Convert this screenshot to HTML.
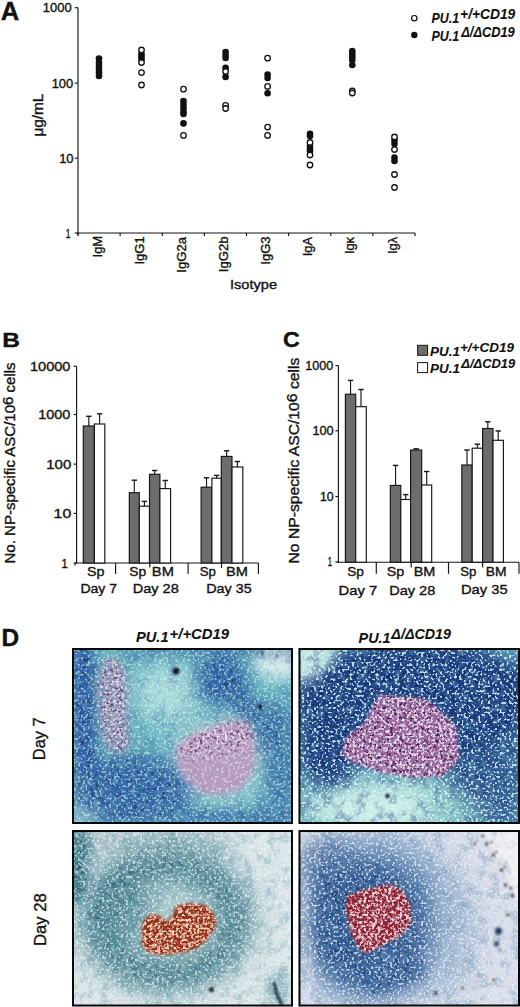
<!DOCTYPE html>
<html><head><meta charset="utf-8"><style>
html,body{margin:0;padding:0;background:#fff;width:520px;height:1007px;overflow:hidden}
svg{position:absolute;left:0;top:0;display:block}
text{font-family:"Liberation Sans", sans-serif;fill:#111;stroke:#111;stroke-width:0.35px}
</style></head><body>
<svg width="520" height="1007" viewBox="0 0 520 1007">
<defs><filter id="bl1" filterUnits="userSpaceOnUse" x="-600" y="-1100" width="1800" height="2400"><feGaussianBlur stdDeviation="0.8"/></filter>
<filter id="bl2" filterUnits="userSpaceOnUse" x="-600" y="-1100" width="1800" height="2400"><feGaussianBlur stdDeviation="1.6"/></filter>
<filter id="bl3" filterUnits="userSpaceOnUse" x="-600" y="-1100" width="1800" height="2400"><feGaussianBlur stdDeviation="3"/></filter>
<filter id="bl4" filterUnits="userSpaceOnUse" x="-600" y="-1100" width="1800" height="2400"><feGaussianBlur stdDeviation="4"/></filter>
<filter id="bl6" filterUnits="userSpaceOnUse" x="-600" y="-1100" width="1800" height="2400"><feGaussianBlur stdDeviation="6"/></filter>
<filter id="bl8" filterUnits="userSpaceOnUse" x="-600" y="-1100" width="1800" height="2400"><feGaussianBlur stdDeviation="8"/></filter>
<filter id="bl10" filterUnits="userSpaceOnUse" x="-600" y="-1100" width="1800" height="2400"><feGaussianBlur stdDeviation="10"/></filter>
<filter id="bl16" filterUnits="userSpaceOnUse" x="-600" y="-1100" width="1800" height="2400"><feGaussianBlur stdDeviation="16"/></filter>
<clipPath id="cTL"><rect x="72" y="648" width="221" height="176"/></clipPath>
<mask id="mTL" maskUnits="userSpaceOnUse" x="72" y="648" width="221" height="176"><rect x="72" y="648" width="221" height="176" fill="#000"/><g transform="translate(72,648)"><polyline points="10,-5 12,80 14,120" fill="none" stroke="#fff" stroke-width="26" stroke-linecap="round" stroke-linejoin="round" opacity="1" filter="url(#bl6)"/><ellipse cx="60" cy="142" rx="62" ry="36" fill="#fff" opacity="0.9" filter="url(#bl10)"/><polyline points="55,3 221,3" fill="none" stroke="#fff" stroke-width="12" stroke-linecap="round" stroke-linejoin="round" opacity="0.5" filter="url(#bl6)"/><ellipse cx="148" cy="32" rx="24" ry="26" fill="#fff" opacity="0.85" filter="url(#bl8)"/><polyline points="150,20 165,45 182,68 196,88" fill="none" stroke="#fff" stroke-width="24" stroke-linecap="round" stroke-linejoin="round" opacity="0.8" filter="url(#bl8)"/><ellipse cx="208" cy="110" rx="16" ry="60" fill="#fff" opacity="0.65" filter="url(#bl8)"/><polyline points="106,170 221,170" fill="none" stroke="#fff" stroke-width="18" stroke-linecap="round" stroke-linejoin="round" opacity="0.65" filter="url(#bl6)"/></g></mask>
<filter color-interpolation-filters="sRGB" id="mottTL" x="0" y="0" width="100%" height="100%"><feTurbulence type="fractalNoise" baseFrequency="0.16" numOctaves="2" seed="3"/><feColorMatrix type="matrix" values="0 0 0 0 0.180  0 0 0 0 0.361  0 0 0 0 0.651  3.2 0 0 0 -0.9"/></filter>
<filter color-interpolation-filters="sRGB" id="dotTL" x="0" y="0" width="100%" height="100%"><feTurbulence type="fractalNoise" baseFrequency="0.24" numOctaves="2" seed="13"/><feColorMatrix type="matrix" values="0 0 0 0 0.047  0 0 0 0 0.110  0 0 0 0 0.251  0 9 0 0 -5.1"/><feGaussianBlur stdDeviation="0.4"/></filter>
<filter color-interpolation-filters="sRGB" id="celTL" x="0" y="0" width="100%" height="100%"><feTurbulence type="fractalNoise" baseFrequency="0.42" numOctaves="1" seed="7"/><feColorMatrix type="matrix" values="0 0 0 0 0.847  0 0 0 0 0.957  0 0 0 0 0.957  12 0 0 0 -6.6"/><feGaussianBlur stdDeviation="0.35"/></filter>
<filter color-interpolation-filters="sRGB" id="gmTL" x="0" y="0" width="100%" height="100%"><feTurbulence type="fractalNoise" baseFrequency="0.09" numOctaves="3" seed="17"/><feColorMatrix type="matrix" values="0 0 0 0 0.180  0 0 0 0 0.361  0 0 0 0 0.651  4.0 0 0 0 -1.9"/></filter>
<mask id="bTL" maskUnits="userSpaceOnUse" x="72" y="648" width="221" height="176"><rect x="72" y="648" width="221" height="176" fill="#000"/><g transform="translate(72,648)"><polygon points="32,12 45,10 53,25 55,50 54,75 57,95 50,105 38,102 30,85 27,60 26,35" fill="#fff" opacity="1" filter="url(#bl3)"/><polygon points="106,97 118,87 138,80 160,72 176,74 182,87 182,100 150,108 110,112" fill="#fff" opacity="1" filter="url(#bl6)"/></g></mask>
<filter color-interpolation-filters="sRGB" id="bspTL" x="0" y="0" width="100%" height="100%"><feTurbulence type="fractalNoise" baseFrequency="0.3" numOctaves="2" seed="31"/><feColorMatrix type="matrix" values="0 0 0 0 0.290  0 0 0 0 0.094  0 0 0 0 0.282  0 0 8 0 -4.3"/><feGaussianBlur stdDeviation="0.35"/></filter>
<filter color-interpolation-filters="sRGB" id="bslTL" x="0" y="0" width="100%" height="100%"><feTurbulence type="fractalNoise" baseFrequency="0.36" numOctaves="1" seed="41"/><feColorMatrix type="matrix" values="0 0 0 0 0.957  0 0 0 0 0.878  0 0 0 0 0.941  11 0 0 0 -6.0"/><feGaussianBlur stdDeviation="0.45"/></filter>
<clipPath id="cTR"><rect x="298.5" y="648" width="221.5" height="176"/></clipPath>
<mask id="mTR" maskUnits="userSpaceOnUse" x="298.5" y="648" width="221.5" height="176"><rect x="298.5" y="648" width="221.5" height="176" fill="#000"/><g transform="translate(298.5,648)"><ellipse cx="118" cy="50" rx="122" ry="58" fill="#fff" opacity="1" filter="url(#bl8)"/><ellipse cx="30" cy="100" rx="30" ry="40" fill="#fff" opacity="1" filter="url(#bl8)"/><ellipse cx="4" cy="4" rx="30" ry="26" fill="#000" filter="url(#bl6)"/><ellipse cx="185" cy="110" rx="40" ry="45" fill="#fff" opacity="0.75" filter="url(#bl10)"/><ellipse cx="205" cy="160" rx="25" ry="25" fill="#fff" opacity="0.6" filter="url(#bl10)"/></g></mask>
<filter color-interpolation-filters="sRGB" id="mottTR" x="0" y="0" width="100%" height="100%"><feTurbulence type="fractalNoise" baseFrequency="0.16" numOctaves="2" seed="3"/><feColorMatrix type="matrix" values="0 0 0 0 0.110  0 0 0 0 0.235  0 0 0 0 0.510  3.2 0 0 0 -0.9"/></filter>
<filter color-interpolation-filters="sRGB" id="dotTR" x="0" y="0" width="100%" height="100%"><feTurbulence type="fractalNoise" baseFrequency="0.24" numOctaves="2" seed="13"/><feColorMatrix type="matrix" values="0 0 0 0 0.047  0 0 0 0 0.110  0 0 0 0 0.251  0 9 0 0 -5.1"/><feGaussianBlur stdDeviation="0.4"/></filter>
<filter color-interpolation-filters="sRGB" id="celTR" x="0" y="0" width="100%" height="100%"><feTurbulence type="fractalNoise" baseFrequency="0.42" numOctaves="1" seed="7"/><feColorMatrix type="matrix" values="0 0 0 0 0.847  0 0 0 0 0.957  0 0 0 0 0.957  12 0 0 0 -6.6"/><feGaussianBlur stdDeviation="0.35"/></filter>
<filter color-interpolation-filters="sRGB" id="gmTR" x="0" y="0" width="100%" height="100%"><feTurbulence type="fractalNoise" baseFrequency="0.09" numOctaves="3" seed="17"/><feColorMatrix type="matrix" values="0 0 0 0 0.110  0 0 0 0 0.235  0 0 0 0 0.510  4.0 0 0 0 -1.9"/></filter>
<mask id="bTR" maskUnits="userSpaceOnUse" x="298.5" y="648" width="221.5" height="176"><rect x="298.5" y="648" width="221.5" height="176" fill="#000"/><g transform="translate(298.5,648)"><polygon points="81,47 128,51 158,79 160,111 145,128 115,130 81,124 56,115 43,107 47,90 64,77" fill="#fff" opacity="1" filter="url(#bl2)"/></g></mask>
<filter color-interpolation-filters="sRGB" id="bspTR" x="0" y="0" width="100%" height="100%"><feTurbulence type="fractalNoise" baseFrequency="0.3" numOctaves="2" seed="31"/><feColorMatrix type="matrix" values="0 0 0 0 0.251  0 0 0 0 0.063  0 0 0 0 0.220  0 0 8 0 -4.3"/><feGaussianBlur stdDeviation="0.35"/></filter>
<filter color-interpolation-filters="sRGB" id="bslTR" x="0" y="0" width="100%" height="100%"><feTurbulence type="fractalNoise" baseFrequency="0.36" numOctaves="1" seed="41"/><feColorMatrix type="matrix" values="0 0 0 0 0.949  0 0 0 0 0.816  0 0 0 0 0.925  11 0 0 0 -6.0"/><feGaussianBlur stdDeviation="0.45"/></filter>
<clipPath id="cBL"><rect x="72" y="830" width="221" height="176.5"/></clipPath>
<mask id="mBL" maskUnits="userSpaceOnUse" x="72" y="830" width="221" height="176.5"><rect x="72" y="830" width="221" height="176.5" fill="#000"/><g transform="translate(72,830)"><ellipse cx="6" cy="30" rx="12" ry="45" fill="#fff" opacity="1" filter="url(#bl4)"/><ellipse cx="95" cy="90" rx="68" ry="56" fill="none" stroke="#fff" stroke-width="30" filter="url(#bl10)" opacity="0.85"/><ellipse cx="50" cy="80" rx="30" ry="40" fill="#fff" opacity="0.6" filter="url(#bl10)"/><polyline points="10,12 80,10 150,14" fill="none" stroke="#fff" stroke-width="22" stroke-linecap="round" stroke-linejoin="round" opacity="0.45" filter="url(#bl10)"/></g></mask>
<filter color-interpolation-filters="sRGB" id="mottBL" x="0" y="0" width="100%" height="100%"><feTurbulence type="fractalNoise" baseFrequency="0.16" numOctaves="2" seed="3"/><feColorMatrix type="matrix" values="0 0 0 0 0.247  0 0 0 0 0.486  0 0 0 0 0.541  3.2 0 0 0 -0.9"/></filter>
<filter color-interpolation-filters="sRGB" id="dotBL" x="0" y="0" width="100%" height="100%"><feTurbulence type="fractalNoise" baseFrequency="0.24" numOctaves="2" seed="13"/><feColorMatrix type="matrix" values="0 0 0 0 0.047  0 0 0 0 0.110  0 0 0 0 0.251  0 9 0 0 -5.1"/><feGaussianBlur stdDeviation="0.4"/></filter>
<filter color-interpolation-filters="sRGB" id="celBL" x="0" y="0" width="100%" height="100%"><feTurbulence type="fractalNoise" baseFrequency="0.42" numOctaves="1" seed="7"/><feColorMatrix type="matrix" values="0 0 0 0 0.941  0 0 0 0 0.973  0 0 0 0 0.973  12 0 0 0 -6.6"/><feGaussianBlur stdDeviation="0.35"/></filter>
<filter color-interpolation-filters="sRGB" id="gmBL" x="0" y="0" width="100%" height="100%"><feTurbulence type="fractalNoise" baseFrequency="0.09" numOctaves="3" seed="17"/><feColorMatrix type="matrix" values="0 0 0 0 0.310  0 0 0 0 0.557  0 0 0 0 0.612  4.0 0 0 0 -1.9"/></filter>
<mask id="bBL" maskUnits="userSpaceOnUse" x="72" y="830" width="221" height="176.5"><rect x="72" y="830" width="221" height="176.5" fill="#000"/><g transform="translate(72,830)"><polygon points="69.5,100 72,90 79,84 88,86 95,92 100,86 104,76 118,73 133,75 142,84 144,96 136,108 126,118 113,122 93,125 76,123 70,115" fill="#fff" opacity="1" filter="url(#bl2)"/></g></mask>
<filter color-interpolation-filters="sRGB" id="bspBL" x="0" y="0" width="100%" height="100%"><feTurbulence type="fractalNoise" baseFrequency="0.3" numOctaves="2" seed="31"/><feColorMatrix type="matrix" values="0 0 0 0 0.949  0 0 0 0 0.769  0 0 0 0 0.627  0 0 8 0 -4.3"/><feGaussianBlur stdDeviation="0.35"/></filter>
<filter color-interpolation-filters="sRGB" id="bslBL" x="0" y="0" width="100%" height="100%"><feTurbulence type="fractalNoise" baseFrequency="0.36" numOctaves="1" seed="41"/><feColorMatrix type="matrix" values="0 0 0 0 0.973  0 0 0 0 0.847  0 0 0 0 0.722  11 0 0 0 -6.0"/><feGaussianBlur stdDeviation="0.45"/></filter>
<clipPath id="cBR"><rect x="298.5" y="830" width="221.5" height="176.5"/></clipPath>
<mask id="mBR" maskUnits="userSpaceOnUse" x="298.5" y="830" width="221.5" height="176.5"><rect x="298.5" y="830" width="221.5" height="176.5" fill="#000"/><g transform="translate(298.5,830)"><ellipse cx="70" cy="95" rx="62" ry="66" fill="#fff" opacity="0.9" filter="url(#bl10)"/><polyline points="35,60 45,120 80,152 120,140" fill="none" stroke="#fff" stroke-width="20" stroke-linecap="round" stroke-linejoin="round" opacity="0.75" filter="url(#bl6)"/><ellipse cx="30" cy="40" rx="30" ry="35" fill="#fff" opacity="0.6" filter="url(#bl10)"/></g></mask>
<filter color-interpolation-filters="sRGB" id="mottBR" x="0" y="0" width="100%" height="100%"><feTurbulence type="fractalNoise" baseFrequency="0.16" numOctaves="2" seed="3"/><feColorMatrix type="matrix" values="0 0 0 0 0.173  0 0 0 0 0.345  0 0 0 0 0.573  3.2 0 0 0 -0.9"/></filter>
<filter color-interpolation-filters="sRGB" id="dotBR" x="0" y="0" width="100%" height="100%"><feTurbulence type="fractalNoise" baseFrequency="0.24" numOctaves="2" seed="13"/><feColorMatrix type="matrix" values="0 0 0 0 0.047  0 0 0 0 0.110  0 0 0 0 0.251  0 9 0 0 -5.1"/><feGaussianBlur stdDeviation="0.4"/></filter>
<filter color-interpolation-filters="sRGB" id="celBR" x="0" y="0" width="100%" height="100%"><feTurbulence type="fractalNoise" baseFrequency="0.42" numOctaves="1" seed="7"/><feColorMatrix type="matrix" values="0 0 0 0 0.910  0 0 0 0 0.941  0 0 0 0 0.973  12 0 0 0 -6.6"/><feGaussianBlur stdDeviation="0.35"/></filter>
<filter color-interpolation-filters="sRGB" id="gmBR" x="0" y="0" width="100%" height="100%"><feTurbulence type="fractalNoise" baseFrequency="0.09" numOctaves="3" seed="17"/><feColorMatrix type="matrix" values="0 0 0 0 0.369  0 0 0 0 0.533  0 0 0 0 0.659  4.0 0 0 0 -1.9"/></filter>
<mask id="bBR" maskUnits="userSpaceOnUse" x="298.5" y="830" width="221.5" height="176.5"><rect x="298.5" y="830" width="221.5" height="176.5" fill="#000"/><g transform="translate(298.5,830)"><polygon points="48.5,66 62.5,60.8 85,55.6 93.5,54.7 105.5,62.5 111.5,74.6 112.5,92 102,105.7 88.5,112.7 76,119.6 67.5,123 60.5,118 54,105.7 50,92 47,78" fill="#fff" opacity="1" filter="url(#bl2)"/></g></mask>
<filter color-interpolation-filters="sRGB" id="bspBR" x="0" y="0" width="100%" height="100%"><feTurbulence type="fractalNoise" baseFrequency="0.3" numOctaves="2" seed="31"/><feColorMatrix type="matrix" values="0 0 0 0 0.941  0 0 0 0 0.722  0 0 0 0 0.753  0 0 8 0 -4.3"/><feGaussianBlur stdDeviation="0.35"/></filter>
<filter color-interpolation-filters="sRGB" id="bslBR" x="0" y="0" width="100%" height="100%"><feTurbulence type="fractalNoise" baseFrequency="0.36" numOctaves="1" seed="41"/><feColorMatrix type="matrix" values="0 0 0 0 0.973  0 0 0 0 0.831  0 0 0 0 0.863  11 0 0 0 -6.0"/><feGaussianBlur stdDeviation="0.45"/></filter></defs>
<g clip-path="url(#cTL)">
<rect x="72" y="648" width="221" height="176" fill="#6cb6c0"/>
<g transform="translate(72,648)"><ellipse cx="205" cy="14" rx="22" ry="18" fill="#d4ecea" opacity="1" filter="url(#bl6)"/><ellipse cx="95" cy="45" rx="32" ry="30" fill="#acdcda" opacity="0.95" filter="url(#bl10)"/><ellipse cx="12" cy="165" rx="16" ry="14" fill="#a8d8d8" opacity="0.9" filter="url(#bl6)"/><ellipse cx="144" cy="112" rx="50" ry="46" fill="#a6d2d4" opacity="0.8" filter="url(#bl10)"/></g>
<g mask="url(#mTL)"><rect x="72" y="648" width="221" height="176" fill="#2e5ca6" opacity="0.55"/><rect x="72" y="648" width="221" height="176" filter="url(#mottTL)"/><rect x="72" y="648" width="221" height="176" filter="url(#dotTL)" opacity="0.45"/></g>
<rect x="72" y="648" width="221" height="176" filter="url(#gmTL)" opacity="0.25"/>
<g transform="translate(72,648)"><polygon points="32,12 45,10 53,25 55,50 54,75 57,95 50,105 38,102 30,85 27,60 26,35" fill="#a48ab4" opacity="0.7" filter="url(#bl4)"/><polygon points="106,97 118,87 138,80 160,72 176,74 182,87 184,107 180,127 168,142 148,147 128,144 113,132 104,117" fill="#bc98c0" opacity="0.92" filter="url(#bl3)"/></g>
<g mask="url(#bTL)" opacity="0.6"><rect x="72" y="648" width="221" height="176" filter="url(#bspTL)"/></g>
<g mask="url(#bTL)" opacity="0.8"><rect x="72" y="648" width="221" height="176" filter="url(#bslTL)"/></g>
<rect x="72" y="648" width="221" height="176" filter="url(#celTL)" opacity="0.55"/>
<g transform="translate(72,648)"><circle cx="104" cy="23" r="3.5" fill="#101830" filter="url(#bl1)"/><circle cx="188" cy="59" r="2.5" fill="#101830" filter="url(#bl1)"/><circle cx="190" cy="5" r="1.2" fill="#202020" filter="url(#bl1)"/><circle cx="205" cy="8" r="1.2" fill="#202020" filter="url(#bl1)"/></g>
</g>
<rect x="73" y="649" width="219" height="174" fill="none" stroke="#0a0a0a" stroke-width="2"/>
<g clip-path="url(#cTR)">
<rect x="298.5" y="648" width="221.5" height="176" fill="#64a6c0"/>
<g transform="translate(298.5,648)"><ellipse cx="10" cy="12" rx="30" ry="28" fill="#c2e6e2" opacity="1" filter="url(#bl6)"/><ellipse cx="85" cy="158" rx="85" ry="28" fill="#a8dcd6" opacity="1" filter="url(#bl10)"/><ellipse cx="80" cy="162" rx="60" ry="18" fill="#d0f0ea" opacity="1" filter="url(#bl10)"/><ellipse cx="160" cy="160" rx="40" ry="18" fill="#86c4c6" opacity="0.7" filter="url(#bl10)"/></g>
<g mask="url(#mTR)"><rect x="298.5" y="648" width="221.5" height="176" fill="#1c3c82" opacity="0.55"/><rect x="298.5" y="648" width="221.5" height="176" filter="url(#mottTR)"/><rect x="298.5" y="648" width="221.5" height="176" filter="url(#dotTR)" opacity="0.45"/></g>
<rect x="298.5" y="648" width="221.5" height="176" filter="url(#gmTR)" opacity="0.35"/>
<g transform="translate(298.5,648)"><polygon points="81,47 128,51 158,79 160,111 145,128 115,130 81,124 56,115 43,107 47,90 64,77" fill="#9c6aa0" opacity="1" filter="url(#bl2)"/></g>
<g mask="url(#bTR)" opacity="0.8"><rect x="298.5" y="648" width="221.5" height="176" filter="url(#bspTR)"/></g>
<g mask="url(#bTR)" opacity="0.85"><rect x="298.5" y="648" width="221.5" height="176" filter="url(#bslTR)"/></g>
<rect x="298.5" y="648" width="221.5" height="176" filter="url(#celTR)" opacity="0.85"/>
<g transform="translate(298.5,648)"><circle cx="89" cy="148" r="2.2" fill="#101820" filter="url(#bl1)"/></g>
</g>
<rect x="299.5" y="649" width="219.5" height="174" fill="none" stroke="#0a0a0a" stroke-width="2"/>
<g clip-path="url(#cBL)">
<rect x="72" y="830" width="221" height="176.5" fill="#dce6e8"/>
<g transform="translate(72,830)"><ellipse cx="92" cy="88" rx="95" ry="72" fill="#a4c6cc" opacity="1" filter="url(#bl16)"/><ellipse cx="108" cy="100" rx="45" ry="32" fill="#b4cdd0" opacity="0.9" filter="url(#bl10)"/><ellipse cx="205" cy="160" rx="12" ry="20" fill="#8ab4bc" opacity="0.8" filter="url(#bl6)"/></g>
<g mask="url(#mBL)"><rect x="72" y="830" width="221" height="176.5" fill="#3f7c8a" opacity="0.55"/><rect x="72" y="830" width="221" height="176.5" filter="url(#mottBL)"/><rect x="72" y="830" width="221" height="176.5" filter="url(#dotBL)" opacity="0.4"/></g>
<rect x="72" y="830" width="221" height="176.5" filter="url(#gmBL)" opacity="0.3"/>
<g transform="translate(72,830)"><polygon points="69.5,100 72,90 79,84 88,86 95,92 100,86 104,76 118,73 133,75 142,84 144,96 136,108 126,118 113,122 93,125 76,123 70,115" fill="#962e14" opacity="1" filter="url(#bl2)"/></g>
<g mask="url(#bBL)" opacity="0.6"><rect x="72" y="830" width="221" height="176.5" filter="url(#bspBL)"/></g>
<g mask="url(#bBL)" opacity="0.9"><rect x="72" y="830" width="221" height="176.5" filter="url(#bslBL)"/></g>
<rect x="72" y="830" width="221" height="176.5" filter="url(#celBL)" opacity="0.6"/>
<g transform="translate(72,830)"><polyline points="202,152 205,165 210,175" fill="none" stroke="#1e3a44" stroke-width="3" filter="url(#bl1)"/><circle cx="139.5" cy="159.5" r="2.6" fill="#1a2a30" filter="url(#bl1)"/></g>
</g>
<rect x="73" y="831" width="219" height="174.5" fill="none" stroke="#0a0a0a" stroke-width="2"/>
<g clip-path="url(#cBR)">
<rect x="298.5" y="830" width="221.5" height="176.5" fill="#d8dde8"/>
<g transform="translate(298.5,830)"><ellipse cx="75" cy="90" rx="85" ry="88" fill="#7a9cc2" opacity="1" filter="url(#bl16)"/><ellipse cx="8" cy="110" rx="8" ry="70" fill="#d0dcea" opacity="0.9" filter="url(#bl4)"/><ellipse cx="150" cy="110" rx="30" ry="60" fill="#a8bcd4" opacity="0.6" filter="url(#bl10)"/><polygon points="183,-5 230,-5 230,80 222,75" fill="#f2f0f2" opacity="1" filter="url(#bl1)"/></g>
<g mask="url(#mBR)"><rect x="298.5" y="830" width="221.5" height="176.5" fill="#2c5892" opacity="0.55"/><rect x="298.5" y="830" width="221.5" height="176.5" filter="url(#mottBR)"/><rect x="298.5" y="830" width="221.5" height="176.5" filter="url(#dotBR)" opacity="0.45"/></g>
<rect x="298.5" y="830" width="221.5" height="176.5" filter="url(#gmBR)" opacity="0.3"/>
<g transform="translate(298.5,830)"><polygon points="48.5,66 62.5,60.8 85,55.6 93.5,54.7 105.5,62.5 111.5,74.6 112.5,92 102,105.7 88.5,112.7 76,119.6 67.5,123 60.5,118 54,105.7 50,92 47,78" fill="#8c2430" opacity="1" filter="url(#bl2)"/></g>
<g mask="url(#bBR)" opacity="0.6"><rect x="298.5" y="830" width="221.5" height="176.5" filter="url(#bspBR)"/></g>
<g mask="url(#bBR)" opacity="0.9"><rect x="298.5" y="830" width="221.5" height="176.5" filter="url(#bslBR)"/></g>
<rect x="298.5" y="830" width="221.5" height="176.5" filter="url(#celBR)" opacity="0.7"/>
<g transform="translate(298.5,830)"><circle cx="200" cy="101" r="3.5" fill="#1a2e58" filter="url(#bl2)"/><circle cx="198" cy="114" r="2.5" fill="#1a2e58" filter="url(#bl2)"/><circle cx="184" cy="6" r="1.2" fill="#3a2020" filter="url(#bl1)"/><circle cx="188" cy="14" r="1.5" fill="#3a2020" filter="url(#bl1)"/><circle cx="193" cy="12" r="1.1" fill="#3a2020" filter="url(#bl1)"/><circle cx="195" cy="25" r="1.4" fill="#3a2020" filter="url(#bl1)"/><circle cx="198" cy="22" r="1.0" fill="#3a2020" filter="url(#bl1)"/><circle cx="203" cy="40" r="1.6" fill="#3a2020" filter="url(#bl1)"/><circle cx="206" cy="37" r="1.1" fill="#3a2020" filter="url(#bl1)"/><circle cx="207" cy="55" r="1.5" fill="#3a2020" filter="url(#bl1)"/><circle cx="212" cy="58" r="1.2" fill="#3a2020" filter="url(#bl1)"/><circle cx="214" cy="66" r="1.4" fill="#3a2020" filter="url(#bl1)"/><circle cx="176" cy="14" r="1.0" fill="#3a2020" filter="url(#bl1)"/><circle cx="209" cy="85" r="1.3" fill="#3a2020" filter="url(#bl1)"/><circle cx="201" cy="120" r="1.1" fill="#3a2020" filter="url(#bl1)"/><circle cx="137" cy="163" r="1.6" fill="#202020" filter="url(#bl1)"/><circle cx="164" cy="158" r="1.3" fill="#5a4020" filter="url(#bl1)"/><circle cx="180" cy="146" r="1.0" fill="#5a4020" filter="url(#bl1)"/><circle cx="195" cy="150" r="1.2" fill="#5a4020" filter="url(#bl1)"/><circle cx="75" cy="162" r="1.2" fill="#202020" filter="url(#bl1)"/></g>
</g>
<rect x="299.5" y="831" width="219.5" height="174.5" fill="none" stroke="#0a0a0a" stroke-width="2"/>
<text x="0.86" y="20.30" font-size="25.87" font-weight="bold" textLength="18.46" lengthAdjust="spacingAndGlyphs">A</text>
<line x1="78.0" y1="7.7" x2="78.0" y2="235.5" stroke="#151515" stroke-width="1.15"/>
<line x1="77.5" y1="233.0" x2="415.2" y2="233.0" stroke="#151515" stroke-width="1.15"/>
<text x="42.86" y="12.30" font-size="12.90" textLength="28.79" lengthAdjust="spacingAndGlyphs">1000</text>
<text x="51.66" y="87.60" font-size="12.90" textLength="21.59" lengthAdjust="spacingAndGlyphs">100</text>
<text x="59.16" y="162.70" font-size="12.90" textLength="14.39" lengthAdjust="spacingAndGlyphs">10</text>
<text x="65.71" y="237.70" font-size="12.90" textLength="4.64" lengthAdjust="spacingAndGlyphs">1</text>
<line x1="74.8" y1="7.7" x2="78.0" y2="7.7" stroke="#151515" stroke-width="1.15"/>
<line x1="74.8" y1="83.1" x2="78.0" y2="83.1" stroke="#151515" stroke-width="1.15"/>
<line x1="74.8" y1="158.2" x2="78.0" y2="158.2" stroke="#151515" stroke-width="1.15"/>
<line x1="74.8" y1="233.0" x2="78.0" y2="233.0" stroke="#151515" stroke-width="1.15"/>
<line x1="78.0" y1="233.0" x2="78.0" y2="236.0" stroke="#151515" stroke-width="1.15"/>
<line x1="120.125" y1="233.0" x2="120.125" y2="236.0" stroke="#151515" stroke-width="1.15"/>
<line x1="162.25" y1="233.0" x2="162.25" y2="236.0" stroke="#151515" stroke-width="1.15"/>
<line x1="204.375" y1="233.0" x2="204.375" y2="236.0" stroke="#151515" stroke-width="1.15"/>
<line x1="246.5" y1="233.0" x2="246.5" y2="236.0" stroke="#151515" stroke-width="1.15"/>
<line x1="288.625" y1="233.0" x2="288.625" y2="236.0" stroke="#151515" stroke-width="1.15"/>
<line x1="330.75" y1="233.0" x2="330.75" y2="236.0" stroke="#151515" stroke-width="1.15"/>
<line x1="372.875" y1="233.0" x2="372.875" y2="236.0" stroke="#151515" stroke-width="1.15"/>
<line x1="415.0" y1="233.0" x2="415.0" y2="236.0" stroke="#151515" stroke-width="1.15"/>
<text transform="translate(101.66,257.45) rotate(-90)" font-size="13.40" textLength="21.56" lengthAdjust="spacingAndGlyphs">IgM</text>
<text transform="translate(143.79,264.61) rotate(-90)" font-size="13.40" textLength="28.30" lengthAdjust="spacingAndGlyphs">IgG1</text>
<text transform="translate(185.91,272.73) rotate(-90)" font-size="13.40" textLength="35.78" lengthAdjust="spacingAndGlyphs">IgG2a</text>
<text transform="translate(228.04,272.17) rotate(-90)" font-size="13.40" textLength="35.77" lengthAdjust="spacingAndGlyphs">IgG2b</text>
<text transform="translate(270.16,264.68) rotate(-90)" font-size="13.40" textLength="28.30" lengthAdjust="spacingAndGlyphs">IgG3</text>
<text transform="translate(312.29,256.29) rotate(-90)" font-size="13.40" textLength="19.37" lengthAdjust="spacingAndGlyphs">IgA</text>
<text transform="translate(354.41,254.09) rotate(-90)" font-size="13.40" textLength="17.12" lengthAdjust="spacingAndGlyphs">Ig&#954;</text>
<text transform="translate(396.54,253.96) rotate(-90)" font-size="13.40" textLength="17.12" lengthAdjust="spacingAndGlyphs">Ig&#955;</text>
<text x="230.00" y="289.00" font-size="13.00" textLength="46.99" lengthAdjust="spacingAndGlyphs">Isotype</text>
<text transform="translate(42.70,136.58) rotate(-90)" font-size="14.00" textLength="42.94" lengthAdjust="spacingAndGlyphs">&#956;g/mL</text>
<circle cx="99.0" cy="58.5" r="3.3" fill="#111"/>
<circle cx="99.0" cy="62.5" r="3.3" fill="#111"/>
<circle cx="99.0" cy="66" r="3.3" fill="#111"/>
<circle cx="99.0" cy="69" r="3.3" fill="#111"/>
<circle cx="99.0" cy="72.5" r="3.3" fill="#111"/>
<circle cx="99.0" cy="76" r="3.3" fill="#111"/>
<circle cx="141.5" cy="54" r="3.3" fill="#111"/>
<circle cx="141.5" cy="56.5" r="3.3" fill="#111"/>
<circle cx="141.5" cy="59" r="3.3" fill="#111"/>
<circle cx="183.5" cy="101" r="3.3" fill="#111"/>
<circle cx="183.5" cy="104.5" r="3.3" fill="#111"/>
<circle cx="183.5" cy="108" r="3.3" fill="#111"/>
<circle cx="183.5" cy="111.5" r="3.3" fill="#111"/>
<circle cx="183.5" cy="114" r="3.3" fill="#111"/>
<circle cx="183.5" cy="123.4" r="3.3" fill="#111"/>
<circle cx="225.6" cy="52" r="3.3" fill="#111"/>
<circle cx="225.6" cy="55" r="3.3" fill="#111"/>
<circle cx="225.6" cy="58" r="3.3" fill="#111"/>
<circle cx="225.6" cy="67.7" r="3.3" fill="#111"/>
<circle cx="225.6" cy="76.9" r="3.3" fill="#111"/>
<circle cx="267.6" cy="74.6" r="3.3" fill="#111"/>
<circle cx="267.6" cy="78" r="3.3" fill="#111"/>
<circle cx="267.6" cy="93.3" r="3.3" fill="#111"/>
<circle cx="310.0" cy="133.8" r="3.3" fill="#111"/>
<circle cx="310.0" cy="136" r="3.3" fill="#111"/>
<circle cx="310.0" cy="146" r="3.3" fill="#111"/>
<circle cx="310.0" cy="149" r="3.3" fill="#111"/>
<circle cx="310.0" cy="151" r="3.3" fill="#111"/>
<circle cx="352.3" cy="51" r="3.3" fill="#111"/>
<circle cx="352.3" cy="54" r="3.3" fill="#111"/>
<circle cx="352.3" cy="57" r="3.3" fill="#111"/>
<circle cx="352.3" cy="60" r="3.3" fill="#111"/>
<circle cx="352.3" cy="65" r="3.3" fill="#111"/>
<circle cx="394.5" cy="140" r="3.3" fill="#111"/>
<circle cx="394.5" cy="143.8" r="3.3" fill="#111"/>
<circle cx="394.5" cy="157.5" r="3.3" fill="#111"/>
<circle cx="394.5" cy="161" r="3.3" fill="#111"/>
<circle cx="141.5" cy="50" r="2.75" fill="#fff" stroke="#111" stroke-width="1.3"/>
<circle cx="141.5" cy="62.5" r="2.75" fill="#fff" stroke="#111" stroke-width="1.3"/>
<circle cx="141.5" cy="72.6" r="2.75" fill="#fff" stroke="#111" stroke-width="1.3"/>
<circle cx="141.5" cy="85" r="2.75" fill="#fff" stroke="#111" stroke-width="1.3"/>
<circle cx="183.5" cy="89.2" r="2.75" fill="#fff" stroke="#111" stroke-width="1.3"/>
<circle cx="183.5" cy="135.4" r="2.75" fill="#fff" stroke="#111" stroke-width="1.3"/>
<circle cx="225.6" cy="71.5" r="2.75" fill="#fff" stroke="#111" stroke-width="1.3"/>
<circle cx="225.6" cy="105.4" r="2.75" fill="#fff" stroke="#111" stroke-width="1.3"/>
<circle cx="225.6" cy="108.5" r="2.75" fill="#fff" stroke="#111" stroke-width="1.3"/>
<circle cx="267.6" cy="58.2" r="2.75" fill="#fff" stroke="#111" stroke-width="1.3"/>
<circle cx="267.6" cy="86.4" r="2.75" fill="#fff" stroke="#111" stroke-width="1.3"/>
<circle cx="267.6" cy="127.1" r="2.75" fill="#fff" stroke="#111" stroke-width="1.3"/>
<circle cx="267.6" cy="135.4" r="2.75" fill="#fff" stroke="#111" stroke-width="1.3"/>
<circle cx="310.0" cy="142.5" r="2.75" fill="#fff" stroke="#111" stroke-width="1.3"/>
<circle cx="310.0" cy="155" r="2.75" fill="#fff" stroke="#111" stroke-width="1.3"/>
<circle cx="310.0" cy="165" r="2.75" fill="#fff" stroke="#111" stroke-width="1.3"/>
<circle cx="352.3" cy="91" r="2.75" fill="#fff" stroke="#111" stroke-width="1.3"/>
<circle cx="352.3" cy="93" r="2.75" fill="#fff" stroke="#111" stroke-width="1.3"/>
<circle cx="394.5" cy="137" r="2.75" fill="#fff" stroke="#111" stroke-width="1.3"/>
<circle cx="394.5" cy="149.5" r="2.75" fill="#fff" stroke="#111" stroke-width="1.3"/>
<circle cx="394.5" cy="174.5" r="2.75" fill="#fff" stroke="#111" stroke-width="1.3"/>
<circle cx="394.5" cy="187.5" r="2.75" fill="#fff" stroke="#111" stroke-width="1.3"/>
<circle cx="414.3" cy="18.2" r="2.7" fill="#fff" stroke="#111" stroke-width="1.2"/>
<circle cx="414.3" cy="35" r="3.2" fill="#111"/>
<text x="431.53" y="23.30" font-size="14.24" font-weight="bold" font-style="italic" style="stroke-width:0.08px" textLength="27.58" lengthAdjust="spacingAndGlyphs">PU.1</text>
<text x="460.11" y="19.00" font-size="14.24" font-weight="bold" font-style="italic" style="stroke-width:0.08px" textLength="55.10" lengthAdjust="spacingAndGlyphs">+/+CD19</text>
<text x="431.53" y="40.60" font-size="14.24" font-weight="bold" font-style="italic" style="stroke-width:0.08px" textLength="27.58" lengthAdjust="spacingAndGlyphs">PU.1</text>
<text x="461.25" y="36.60" font-size="14.24" font-weight="bold" font-style="italic" style="stroke-width:0.08px" textLength="53.46" lengthAdjust="spacingAndGlyphs">&#916;/&#916;CD19</text>
<text x="2.20" y="347.00" font-size="20.64" font-weight="bold" textLength="17.76" lengthAdjust="spacingAndGlyphs">B</text>
<line x1="76.6" y1="366.2" x2="76.6" y2="563.3" stroke="#151515" stroke-width="1.15"/>
<line x1="75.1" y1="563.0" x2="258.4" y2="563.0" stroke="#151515" stroke-width="1.15"/>
<line x1="73.6" y1="366.2" x2="76.6" y2="366.2" stroke="#151515" stroke-width="1.15"/>
<text x="30.04" y="370.70" font-size="12.90" textLength="40.37" lengthAdjust="spacingAndGlyphs">10000</text>
<line x1="73.6" y1="414.5" x2="76.6" y2="414.5" stroke="#151515" stroke-width="1.15"/>
<text x="38.25" y="419.00" font-size="12.90" textLength="32.17" lengthAdjust="spacingAndGlyphs">1000</text>
<line x1="73.6" y1="464.1" x2="76.6" y2="464.1" stroke="#151515" stroke-width="1.15"/>
<text x="46.21" y="468.60" font-size="12.90" textLength="25.03" lengthAdjust="spacingAndGlyphs">100</text>
<line x1="73.6" y1="513.4" x2="76.6" y2="513.4" stroke="#151515" stroke-width="1.15"/>
<text x="53.64" y="517.90" font-size="12.90" textLength="17.63" lengthAdjust="spacingAndGlyphs">10</text>
<line x1="73.6" y1="563.0" x2="76.6" y2="563.0" stroke="#151515" stroke-width="1.15"/>
<text x="61.50" y="567.50" font-size="12.90" textLength="6.19" lengthAdjust="spacingAndGlyphs">1</text>
<line x1="75" y1="563.0" x2="75" y2="565.6" stroke="#151515" stroke-width="1.15"/>
<line x1="115.6" y1="563.0" x2="115.6" y2="574" stroke="#151515" stroke-width="1.15"/>
<line x1="149.8" y1="563.0" x2="149.8" y2="567.5" stroke="#151515" stroke-width="1.15"/>
<line x1="188.1" y1="563.0" x2="188.1" y2="574" stroke="#151515" stroke-width="1.15"/>
<line x1="221.5" y1="563.0" x2="221.5" y2="568" stroke="#151515" stroke-width="1.15"/>
<line x1="258.4" y1="563.0" x2="258.4" y2="574" stroke="#151515" stroke-width="1.15"/>
<rect x="83.3" y="426" width="11.100000000000009" height="137.0" fill="#6c6c6c" stroke="#151515" stroke-width="1.15"/>
<line x1="88.85" y1="426" x2="88.85" y2="416.3" stroke="#151515" stroke-width="1.15"/>
<line x1="86.14999999999999" y1="416.3" x2="91.55" y2="416.3" stroke="#151515" stroke-width="1.4"/>
<rect x="94.4" y="424" width="10.399999999999991" height="139.0" fill="#fff" stroke="#151515" stroke-width="1.15"/>
<line x1="99.6" y1="424" x2="99.6" y2="413.8" stroke="#151515" stroke-width="1.15"/>
<line x1="96.89999999999999" y1="413.8" x2="102.3" y2="413.8" stroke="#151515" stroke-width="1.4"/>
<rect x="129.3" y="492.7" width="10.0" height="70.30000000000001" fill="#6c6c6c" stroke="#151515" stroke-width="1.15"/>
<line x1="134.3" y1="492.7" x2="134.3" y2="480.2" stroke="#151515" stroke-width="1.15"/>
<line x1="131.60000000000002" y1="480.2" x2="137.0" y2="480.2" stroke="#151515" stroke-width="1.4"/>
<rect x="139.3" y="506.2" width="10.199999999999989" height="56.80000000000001" fill="#fff" stroke="#151515" stroke-width="1.15"/>
<line x1="144.4" y1="506.2" x2="144.4" y2="501.4" stroke="#151515" stroke-width="1.15"/>
<line x1="141.70000000000002" y1="501.4" x2="147.1" y2="501.4" stroke="#151515" stroke-width="1.4"/>
<rect x="149.5" y="474.3" width="10.400000000000006" height="88.69999999999999" fill="#6c6c6c" stroke="#151515" stroke-width="1.15"/>
<line x1="154.7" y1="474.3" x2="154.7" y2="470.5" stroke="#151515" stroke-width="1.15"/>
<line x1="152.0" y1="470.5" x2="157.39999999999998" y2="470.5" stroke="#151515" stroke-width="1.4"/>
<rect x="159.9" y="488.6" width="10.699999999999989" height="74.39999999999998" fill="#fff" stroke="#151515" stroke-width="1.15"/>
<line x1="165.25" y1="488.6" x2="165.25" y2="480.5" stroke="#151515" stroke-width="1.15"/>
<line x1="162.55" y1="480.5" x2="167.95" y2="480.5" stroke="#151515" stroke-width="1.4"/>
<rect x="201.1" y="487.2" width="10.800000000000011" height="75.80000000000001" fill="#6c6c6c" stroke="#151515" stroke-width="1.15"/>
<line x1="206.5" y1="487.2" x2="206.5" y2="477.8" stroke="#151515" stroke-width="1.15"/>
<line x1="203.8" y1="477.8" x2="209.2" y2="477.8" stroke="#151515" stroke-width="1.4"/>
<rect x="211.9" y="478.2" width="9.400000000000006" height="84.80000000000001" fill="#fff" stroke="#151515" stroke-width="1.15"/>
<line x1="216.60000000000002" y1="478.2" x2="216.60000000000002" y2="475.4" stroke="#151515" stroke-width="1.15"/>
<line x1="213.90000000000003" y1="475.4" x2="219.3" y2="475.4" stroke="#151515" stroke-width="1.4"/>
<rect x="221.3" y="456.4" width="10.699999999999989" height="106.60000000000002" fill="#6c6c6c" stroke="#151515" stroke-width="1.15"/>
<line x1="226.65" y1="456.4" x2="226.65" y2="450.8" stroke="#151515" stroke-width="1.15"/>
<line x1="223.95000000000002" y1="450.8" x2="229.35" y2="450.8" stroke="#151515" stroke-width="1.4"/>
<rect x="232.0" y="467.0" width="10.800000000000011" height="96.0" fill="#fff" stroke="#151515" stroke-width="1.15"/>
<line x1="237.4" y1="467.0" x2="237.4" y2="461.5" stroke="#151515" stroke-width="1.15"/>
<line x1="234.70000000000002" y1="461.5" x2="240.1" y2="461.5" stroke="#151515" stroke-width="1.4"/>
<text x="87.00" y="575.80" font-size="12.90" textLength="17.45" lengthAdjust="spacingAndGlyphs">Sp</text>
<text x="80.40" y="592.50" font-size="12.90" textLength="36.66" lengthAdjust="spacingAndGlyphs">Day 7</text>
<text x="129.32" y="575.80" font-size="12.90" textLength="16.91" lengthAdjust="spacingAndGlyphs">Sp</text>
<text x="151.85" y="575.80" font-size="12.90" textLength="22.01" lengthAdjust="spacingAndGlyphs">BM</text>
<text x="132.66" y="592.50" font-size="12.90" textLength="46.13" lengthAdjust="spacingAndGlyphs">Day 28</text>
<text x="199.75" y="575.80" font-size="12.90" textLength="16.15" lengthAdjust="spacingAndGlyphs">Sp</text>
<text x="225.95" y="575.80" font-size="12.90" textLength="21.89" lengthAdjust="spacingAndGlyphs">BM</text>
<text x="206.17" y="592.50" font-size="12.90" textLength="45.48" lengthAdjust="spacingAndGlyphs">Day 35</text>
<text transform="translate(15.40,563.48) rotate(-90)" font-size="14.60" textLength="201.07" lengthAdjust="spacingAndGlyphs">No. NP-specific ASC/10<tspan dy="-2.2">6</tspan><tspan dy="2.2"> cells</tspan></text>
<text x="282.90" y="347.00" font-size="22.09" font-weight="bold" textLength="16.79" lengthAdjust="spacingAndGlyphs">C</text>
<line x1="338.4" y1="365.6" x2="338.4" y2="562.5" stroke="#151515" stroke-width="1.15"/>
<line x1="336.9" y1="562.2" x2="519" y2="562.2" stroke="#151515" stroke-width="1.15"/>
<line x1="335.4" y1="365.6" x2="338.4" y2="365.6" stroke="#151515" stroke-width="1.15"/>
<text x="305.19" y="370.10" font-size="12.90" textLength="27.95" lengthAdjust="spacingAndGlyphs">1000</text>
<line x1="335.4" y1="430.8" x2="338.4" y2="430.8" stroke="#151515" stroke-width="1.15"/>
<text x="312.38" y="435.30" font-size="12.90" textLength="21.27" lengthAdjust="spacingAndGlyphs">100</text>
<line x1="335.4" y1="496.5" x2="338.4" y2="496.5" stroke="#151515" stroke-width="1.15"/>
<text x="319.91" y="501.00" font-size="12.90" textLength="13.72" lengthAdjust="spacingAndGlyphs">10</text>
<line x1="335.4" y1="561.9" x2="338.4" y2="561.9" stroke="#151515" stroke-width="1.15"/>
<text x="327.77" y="566.40" font-size="12.90" textLength="4.26" lengthAdjust="spacingAndGlyphs">1</text>
<line x1="376.3" y1="562.2" x2="376.3" y2="573.8" stroke="#151515" stroke-width="1.15"/>
<line x1="411.2" y1="562.2" x2="411.2" y2="567.5" stroke="#151515" stroke-width="1.15"/>
<line x1="448.5" y1="562.2" x2="448.5" y2="573.8" stroke="#151515" stroke-width="1.15"/>
<line x1="482.6" y1="562.2" x2="482.6" y2="567.5" stroke="#151515" stroke-width="1.15"/>
<line x1="519" y1="562.2" x2="519" y2="573.8" stroke="#151515" stroke-width="1.15"/>
<rect x="345.4" y="394.2" width="10.300000000000011" height="168.00000000000006" fill="#6c6c6c" stroke="#151515" stroke-width="1.15"/>
<line x1="350.54999999999995" y1="394.2" x2="350.54999999999995" y2="380.4" stroke="#151515" stroke-width="1.15"/>
<line x1="347.84999999999997" y1="380.4" x2="353.24999999999994" y2="380.4" stroke="#151515" stroke-width="1.4"/>
<rect x="355.7" y="406.7" width="10.600000000000023" height="155.50000000000006" fill="#fff" stroke="#151515" stroke-width="1.15"/>
<line x1="361.0" y1="406.7" x2="361.0" y2="389.5" stroke="#151515" stroke-width="1.15"/>
<line x1="358.3" y1="389.5" x2="363.7" y2="389.5" stroke="#151515" stroke-width="1.4"/>
<rect x="390.3" y="485.4" width="10.5" height="76.80000000000007" fill="#6c6c6c" stroke="#151515" stroke-width="1.15"/>
<line x1="395.55" y1="485.4" x2="395.55" y2="465.4" stroke="#151515" stroke-width="1.15"/>
<line x1="392.85" y1="465.4" x2="398.25" y2="465.4" stroke="#151515" stroke-width="1.4"/>
<rect x="400.8" y="499.5" width="9.800000000000011" height="62.700000000000045" fill="#fff" stroke="#151515" stroke-width="1.15"/>
<line x1="405.70000000000005" y1="499.5" x2="405.70000000000005" y2="494.6" stroke="#151515" stroke-width="1.15"/>
<line x1="403.00000000000006" y1="494.6" x2="408.40000000000003" y2="494.6" stroke="#151515" stroke-width="1.4"/>
<rect x="410.6" y="450.0" width="11.099999999999966" height="112.20000000000005" fill="#6c6c6c" stroke="#151515" stroke-width="1.15"/>
<line x1="416.15" y1="450.0" x2="416.15" y2="448.8" stroke="#151515" stroke-width="1.15"/>
<line x1="413.45" y1="448.8" x2="418.84999999999997" y2="448.8" stroke="#151515" stroke-width="1.4"/>
<rect x="421.7" y="485.0" width="10.0" height="77.20000000000005" fill="#fff" stroke="#151515" stroke-width="1.15"/>
<line x1="426.7" y1="485.0" x2="426.7" y2="471.5" stroke="#151515" stroke-width="1.15"/>
<line x1="424.0" y1="471.5" x2="429.4" y2="471.5" stroke="#151515" stroke-width="1.4"/>
<rect x="461.8" y="465.0" width="10.399999999999977" height="97.20000000000005" fill="#6c6c6c" stroke="#151515" stroke-width="1.15"/>
<line x1="467.0" y1="465.0" x2="467.0" y2="450.0" stroke="#151515" stroke-width="1.15"/>
<line x1="464.3" y1="450.0" x2="469.7" y2="450.0" stroke="#151515" stroke-width="1.4"/>
<rect x="472.2" y="448.2" width="10.400000000000034" height="114.00000000000006" fill="#fff" stroke="#151515" stroke-width="1.15"/>
<line x1="477.4" y1="448.2" x2="477.4" y2="444.2" stroke="#151515" stroke-width="1.15"/>
<line x1="474.7" y1="444.2" x2="480.09999999999997" y2="444.2" stroke="#151515" stroke-width="1.4"/>
<rect x="482.6" y="428.5" width="10.399999999999977" height="133.70000000000005" fill="#6c6c6c" stroke="#151515" stroke-width="1.15"/>
<line x1="487.8" y1="428.5" x2="487.8" y2="421.8" stroke="#151515" stroke-width="1.15"/>
<line x1="485.1" y1="421.8" x2="490.5" y2="421.8" stroke="#151515" stroke-width="1.4"/>
<rect x="493.0" y="440.3" width="10.399999999999977" height="121.90000000000003" fill="#fff" stroke="#151515" stroke-width="1.15"/>
<line x1="498.2" y1="440.3" x2="498.2" y2="431.0" stroke="#151515" stroke-width="1.15"/>
<line x1="495.5" y1="431.0" x2="500.9" y2="431.0" stroke="#151515" stroke-width="1.4"/>
<text x="347.23" y="575.50" font-size="12.90" textLength="16.75" lengthAdjust="spacingAndGlyphs">Sp</text>
<text x="338.63" y="594.50" font-size="12.90" textLength="38.76" lengthAdjust="spacingAndGlyphs">Day 7</text>
<text x="386.70" y="575.50" font-size="12.90" textLength="17.55" lengthAdjust="spacingAndGlyphs">Sp</text>
<text x="413.66" y="575.50" font-size="12.90" textLength="21.67" lengthAdjust="spacingAndGlyphs">BM</text>
<text x="389.16" y="594.50" font-size="12.90" textLength="46.13" lengthAdjust="spacingAndGlyphs">Day 28</text>
<text x="460.25" y="575.50" font-size="12.90" textLength="16.15" lengthAdjust="spacingAndGlyphs">Sp</text>
<text x="485.71" y="575.50" font-size="12.90" textLength="20.77" lengthAdjust="spacingAndGlyphs">BM</text>
<text x="460.94" y="593.50" font-size="12.90" textLength="46.63" lengthAdjust="spacingAndGlyphs">Day 35</text>
<text transform="translate(298.80,563.53) rotate(-90)" font-size="14.60" textLength="205.85" lengthAdjust="spacingAndGlyphs">No NP-specific ASC/10<tspan dy="-2.2">6</tspan><tspan dy="2.2"> cells</tspan></text>
<rect x="417.6" y="345.3" width="10" height="10" fill="#6c6c6c" stroke="#151515" stroke-width="1.0"/>
<rect x="417.6" y="362.6" width="10" height="10" fill="#fff" stroke="#151515" stroke-width="1.0"/>
<text x="430.11" y="355.80" font-size="12.94" font-weight="bold" font-style="italic" style="stroke-width:0.08px" textLength="29.75" lengthAdjust="spacingAndGlyphs">PU.1</text>
<text x="460.03" y="351.50" font-size="12.94" font-weight="bold" font-style="italic" style="stroke-width:0.08px" textLength="53.88" lengthAdjust="spacingAndGlyphs">+/+CD19</text>
<text x="430.11" y="372.70" font-size="12.94" font-weight="bold" font-style="italic" style="stroke-width:0.08px" textLength="29.75" lengthAdjust="spacingAndGlyphs">PU.1</text>
<text x="461.25" y="368.40" font-size="12.94" font-weight="bold" font-style="italic" style="stroke-width:0.08px" textLength="53.85" lengthAdjust="spacingAndGlyphs">&#916;/&#916;CD19</text>
<text x="1.51" y="645.80" font-size="23.11" font-weight="bold" textLength="17.66" lengthAdjust="spacingAndGlyphs">D</text>
<text x="135.99" y="642.10" font-size="14.10" font-weight="bold" font-style="italic" style="stroke-width:0.08px" textLength="32.54" lengthAdjust="spacingAndGlyphs">PU.1</text>
<text x="169.64" y="638.60" font-size="14.10" font-weight="bold" font-style="italic" style="stroke-width:0.08px" textLength="59.47" lengthAdjust="spacingAndGlyphs">+/+CD19</text>
<text x="358.60" y="643.20" font-size="14.10" font-weight="bold" font-style="italic" style="stroke-width:0.08px" textLength="32.03" lengthAdjust="spacingAndGlyphs">PU.1</text>
<text x="391.39" y="639.20" font-size="14.10" font-weight="bold" font-style="italic" style="stroke-width:0.08px" textLength="59.42" lengthAdjust="spacingAndGlyphs">&#916;/&#916;CD19</text>
<text transform="translate(45.30,760.20) rotate(-90)" font-size="17.00" textLength="42.98" lengthAdjust="spacingAndGlyphs">Day 7</text>
<text transform="translate(45.60,946.01) rotate(-90)" font-size="17.00" textLength="52.69" lengthAdjust="spacingAndGlyphs">Day 28</text>
</svg>
</body></html>
